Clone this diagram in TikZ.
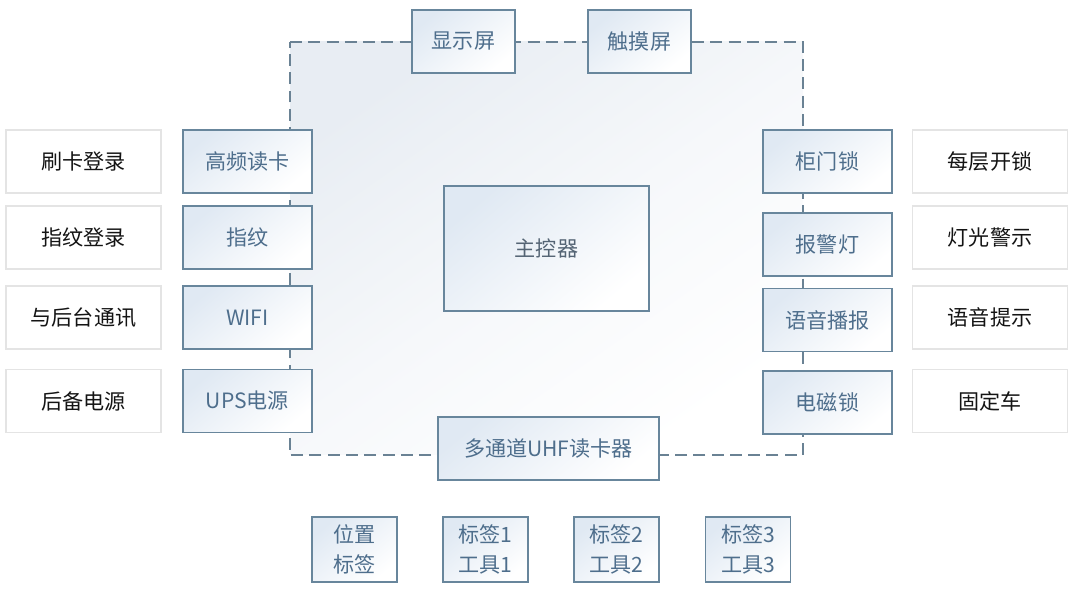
\documentclass[tikz,border=0pt]{standalone}
\usepackage{fontspec}
\setmainfont{Noto Sans CJK SC}
\usepackage{tikz}

\definecolor{framegray}{RGB}{106,130,148}
\definecolor{boxline}{RGB}{104,134,156}
\definecolor{boxtext}{RGB}{78,110,140}
\definecolor{boxtint}{RGB}{224,233,243}
\definecolor{bgtint}{RGB}{232,237,243}
\definecolor{outline}{RGB}{228,228,228}
\definecolor{outtext}{RGB}{20,20,20}
\definecolor{maintext}{RGB}{84,100,116}

\begin{document}
\begin{tikzpicture}[x=0.025cm,y=-0.025cm,
  every node/.style={font=\fontsize{15}{21}\selectfont,inner sep=0pt,align=center},
  outerbox/.style={draw=outline,line width=0.8pt,fill=white,text=outtext,
    minimum width=3.875cm,minimum height=1.575cm},
  innerbox/.style={draw=boxline,line width=1pt,text=boxtext,
    top color=boxtint,bottom color=white,shading angle=40,
    minimum width=3.225cm,minimum height=1.575cm},
  frameline/.style={draw=framegray,line width=1.3pt,dash pattern=on 8.5pt off 4.5pt}]
\useasboundingbox (0,0) rectangle (1080,589);
% frame round the controller
\coordinate (tl) at (290,42);
\coordinate (tr) at (803,42);
\coordinate (br) at (803,455);
\coordinate (bl) at (290,455);
\shade[top color=bgtint,bottom color=white,middle color=white!60!bgtint,shading angle=35] (tl) rectangle (br);
\draw[frameline] (tl) -- (tr) -- (br) -- (bl) -- cycle;
% top
\node[innerbox,minimum width=2.575cm] (disp) at (463.5,41.5) {显示屏};
\node[innerbox,minimum width=2.575cm] (touch) at (639.5,41.5) {触摸屏};
% centre
\node[innerbox,text=maintext,minimum width=5.125cm,minimum height=3.125cm] (main) at (546.5,248.5) {主控器};
\node[innerbox,minimum width=5.525cm] (uhf) at (548.5,448.5) {多通道UHF读卡器};
% left side
\node[outerbox] (login1) at (83.5,161.5) {刷卡登录};
\node[outerbox] (login2) at (83.5,237.5) {指纹登录};
\node[outerbox] (comm) at (83.5,317.5) {与后台通讯};
\node[outerbox] (backup) at (83.5,401) {后备电源};
\node[innerbox] (hfreader) at (247.5,161.5) {高频读卡};
\node[innerbox] (finger) at (247.5,237.5) {指纹};
\node[innerbox] (wifi) at (247.5,317.5) {WIFI};
\node[innerbox] (ups) at (247.5,401) {UPS电源};
% right side
\node[innerbox] (doorlock) at (827.5,161.5) {柜门锁};
\node[innerbox] (alarm) at (827.5,244.5) {报警灯};
\node[innerbox] (voice) at (827.5,320) {语音播报};
\node[innerbox] (maglock) at (827.5,402.5) {电磁锁};
\node[outerbox] (unlock) at (990,161.5) {每层开锁};
\node[outerbox] (lightwarn) at (990,237.5) {灯光警示};
\node[outerbox] (voicehint) at (990,317.5) {语音提示};
\node[outerbox] (fixcar) at (990,401) {固定车};
% tags
\node[innerbox,minimum width=2.125cm,minimum height=1.625cm] (postag) at (354.5,549.5) {位置\\标签};
\node[innerbox,minimum width=2.125cm,minimum height=1.625cm] (tag1) at (485.5,549.5) {标签1\\工具1};
\node[innerbox,minimum width=2.125cm,minimum height=1.625cm] (tag2) at (616.5,549.5) {标签2\\工具2};
\node[innerbox,minimum width=2.125cm,minimum height=1.625cm] (tag3) at (748,549.5) {标签3\\工具3};
\end{tikzpicture}
\end{document}
